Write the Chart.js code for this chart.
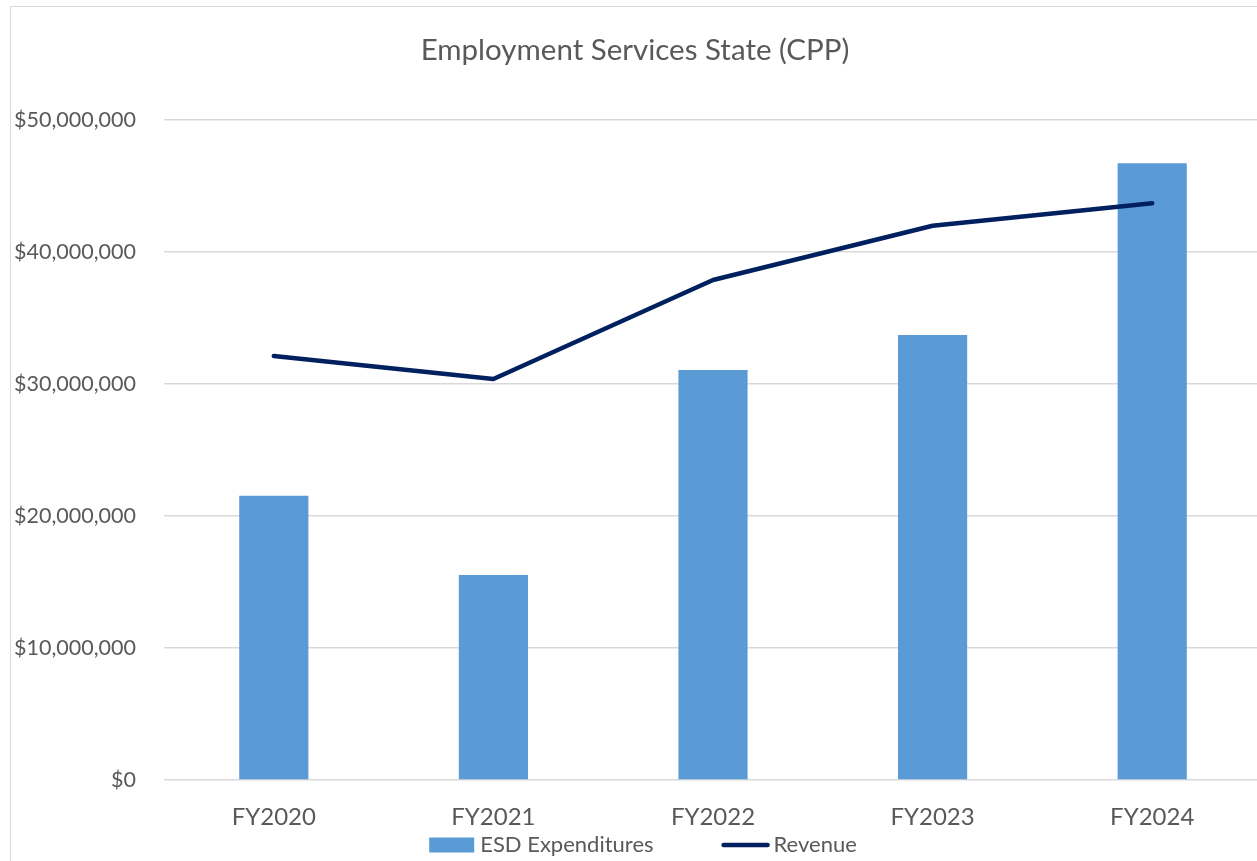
<!DOCTYPE html>
<html>
<head>
<meta charset="utf-8">
<title>Employment Services State (CPP)</title>
<script src="https://cdn.jsdelivr.net/npm/chart.js@4.4.1/dist/chart.umd.min.js"></script>
<style>
    html, body { margin: 0; padding: 0; background: #ffffff; overflow: hidden; }
    #marco {
        position: absolute; left: 10px; top: 6px; width: 1300px; height: 900px;
        border-left: 1.5px solid #d9d9d9; border-top: 1.5px solid #d9d9d9;
    }
    #contenedor { position: absolute; left: 0; top: 0; width: 1262px; height: 861px; }
</style>
</head>
<body>
<div id="marco"></div>
<div id="contenedor"><canvas id="graficoCPP"></canvas></div>
<script>
// Datos del grafico (en dolares)
var anios = ['FY2020', 'FY2021', 'FY2022', 'FY2023', 'FY2024'];
var gastosESD = [21540000, 15530000, 31060000, 33710000, 46720000];
var ingresos = [32120000, 30380000, 37880000, 41990000, 43690000];
var marcasEje = [0, 10000000, 20000000, 30000000, 40000000, 50000000];

var fuente = 'Lato, "Open Sans", sans-serif';
var gris = '#595959';

function formatearMoneda(valor) {
    return '$' + valor.toString().replace(/\B(?=(\d{3})+(?!\d))/g, ',');
}

// Leyenda dibujada a mano debajo del eje X (estilo Excel: barra primero, luego linea)
var leyendaExcel = {
    id: 'leyendaExcel',
    afterDraw: function(chart) {
        var c = chart.ctx;
        var barras = chart.data.datasets[1];
        var linea = chart.data.datasets[0];
        var yCentro = 845;
        c.save();
        c.font = '22px ' + fuente;
        c.textBaseline = 'middle';
        c.fillStyle = gris;
        var anchoBarra = c.measureText(barras.label).width;
        var anchoLinea = c.measureText(linea.label).width;
        var total = 45 + 6 + anchoBarra + 68 + 48 + 4 + anchoLinea;
        var x = 643 - total / 2;

        c.fillStyle = barras.backgroundColor;
        c.fillRect(x, yCentro - 7.5, 45, 15);
        x += 45 + 6;
        c.fillStyle = gris;
        c.fillText(barras.label, x, yCentro);
        x += anchoBarra + 68;

        c.strokeStyle = linea.borderColor;
        c.lineWidth = linea.borderWidth;
        c.lineCap = 'round';
        c.beginPath();
        c.moveTo(x + 2, yCentro);
        c.lineTo(x + 46, yCentro);
        c.stroke();
        x += 48 + 4;
        c.fillText(linea.label, x, yCentro);
        c.restore();
    }
};

var ctx = document.getElementById('graficoCPP').getContext('2d');
new Chart(ctx, {
    data: {
        labels: anios,
        datasets: [{
            type: 'line',
            label: 'Revenue',
            data: ingresos,
            borderColor: '#002060',
            backgroundColor: '#002060',
            borderWidth: 4.5,
            borderCapStyle: 'round',
            borderJoinStyle: 'round',
            pointRadius: 0,
            tension: 0,
            order: 1
        }, {
            type: 'bar',
            label: 'ESD Expenditures',
            data: gastosESD,
            backgroundColor: '#5b9bd5',
            borderWidth: 0,
            barPercentage: 0.315,
            categoryPercentage: 1,
            order: 2
        }]
    },
    options: {
        responsive: true,
        maintainAspectRatio: false,
        animation: false,
        layout: { padding: { top: 10, left: 8, right: 0, bottom: 28.6 } },
        plugins: {
            title: {
                display: true,
                text: 'Employment Services State (CPP)',
                color: gris,
                font: { family: fuente, size: 29.5, weight: 'normal' },
                padding: { top: 22.3, bottom: 52.3 }
            },
            legend: { display: false },
            tooltip: { enabled: false }
        },
        scales: {
            x: {
                grid: { display: false },
                border: { display: false },
                ticks: {
                    color: gris,
                    font: { family: fuente, size: 24 },
                    padding: 14.6
                },
                afterFit: function(eje) { eje.height = 52.4; }
            },
            y: {
                min: 0,
                max: 50000000,
                afterBuildTicks: function(eje) {
                    eje.ticks = marcasEje.map(function(v) { return { value: v }; });
                },
                grid: { color: '#d9d9d9', lineWidth: 1.5, drawTicks: false },
                border: { display: false },
                ticks: {
                    color: gris,
                    font: { family: fuente, size: 21.5 },
                    padding: 28,
                    callback: function(valor) { return formatearMoneda(valor); }
                },
                afterFit: function(eje) { eje.width = 156; }
            }
        }
    },
    plugins: [leyendaExcel]
});
</script>
</body>
</html>
